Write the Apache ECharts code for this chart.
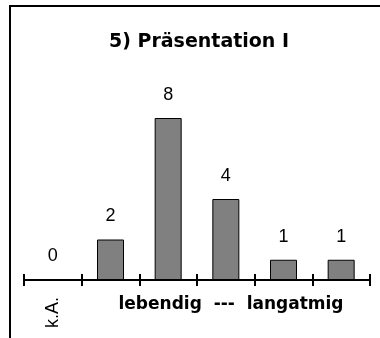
<!DOCTYPE html>
<html>
<head>
<meta charset="utf-8">
<script src="https://cdn.jsdelivr.net/npm/echarts@6/dist/echarts.min.js"></script>
<style>html,body{margin:0;padding:0;background:#fff;}#c{width:380px;height:338px;}</style>
</head>
<body>
<div id="c"></div>
<script>
var titleText = '5) Präsentation I';
var categoryLabels = ['k.A.', '', '', '', '', ''];
var values = [0, 2, 8, 4, 1, 1];
var scaleCaption = 'lebendig  ---  langatmig';

var chart = echarts.init(document.getElementById('c'), null, {renderer: 'canvas'});
chart.setOption({
  animation: false,
  backgroundColor: '#fff',
  title: {
    text: titleText,
    left: 194,
    textAlign: 'center',
    top: 28,
    textStyle: {fontFamily: 'DejaVu Sans', fontWeight: 'bold', fontSize: 19, color: '#000'}
  },
  grid: {left: 24, right: 10, top: 77.5, bottom: 58, containLabel: false},
  xAxis: [{
    type: 'category',
    data: categoryLabels,
    boundaryGap: true,
    axisLine: {lineStyle: {color: '#000', width: 2}},
    axisTick: {show: true, length: 6, inside: false, lineStyle: {color: '#000', width: 2}},
    axisLabel: {rotate: 90, margin: 17, interval: 0, fontFamily: 'Liberation Sans', fontSize: 18, color: '#000'}
  }, {
    type: 'category',
    data: categoryLabels,
    position: 'bottom',
    boundaryGap: true,
    axisLine: {show: false},
    axisTick: {show: true, length: 6, inside: true, lineStyle: {color: '#000', width: 2}},
    axisLabel: {show: false}
  }],
  yAxis: {type: 'value', min: 0, max: 10, show: false, splitLine: {show: false}},
  series: [{
    type: 'bar',
    data: values,
    barWidth: 27,
    itemStyle: {color: '#808080', borderColor: '#000', borderWidth: 1},
    label: {show: true, position: 'top', distance: 14, fontFamily: 'Liberation Sans', fontSize: 18, color: '#000'}
  }],
  graphic: [{
    type: 'rect',
    shape: {x: 10, y: 6, width: 420, height: 420},
    style: {fill: 'none', stroke: '#000', lineWidth: 2},
    silent: true
  }, {
    type: 'text',
    x: 231, y: 305,
    style: {text: scaleCaption, fontFamily: 'DejaVu Sans', fontWeight: 'bold', fontSize: 17, fill: '#000', align: 'center', verticalAlign: 'middle'}
  }]
});
</script>
</body>
</html>
